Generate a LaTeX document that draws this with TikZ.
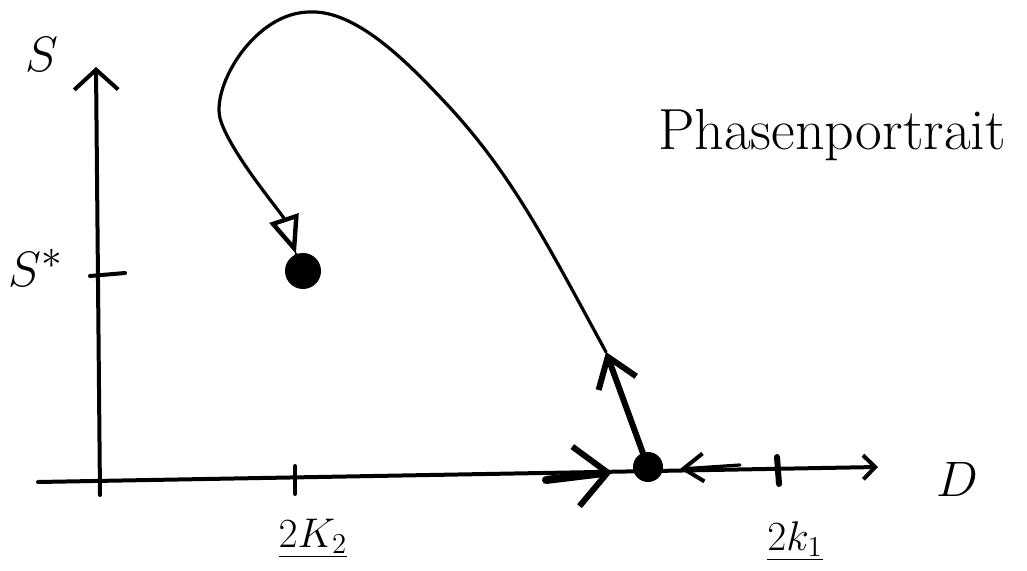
\documentclass[tikz,border=0pt]{standalone}
\usetikzlibrary{arrows.meta}

\begin{document}
\begin{tikzpicture}[x=0.5pt, y=-0.5pt, line cap=round, line join=round,
        axis/.style={line width=2pt},
        traj/.style={line width=1.6pt},
        dot/.style={circle, fill=black, inner sep=0pt},
        lab/.style={inner sep=0pt}]
    \useasboundingbox (0,0) rectangle (1027,571);

    % axes
    \coordinate (xs) at (38,482);
    \coordinate (xe) at (878,467);
    \coordinate (ys) at (100,495);
    \coordinate (ye) at (96,67);
    \draw[axis, -{Straight Barb[length=6pt, width=12pt, line width=2pt]}] (xs) -- (xe);
    \draw[axis, -{Straight Barb[length=10pt, width=22pt, line width=2pt]}] (ys) -- (ye);

    % ticks
    \draw[axis] (90,276) -- (125,273);
    \draw[axis] (295,466) -- (295,494);
    \draw[line width=3pt] (777,457) -- (779,484);

    % labels
    \node[lab, font=\fontsize{32}{36}\selectfont] (S) at (42,55) {$S$};
    \node[lab, font=\fontsize{30}{34}\selectfont] (Sst) at (36,268) {$S^{*}$};
    \node[lab, font=\fontsize{25}{30}\selectfont] (D) at (957,479) {$D$};
    \node[lab, font=\fontsize{22}{26}\selectfont] (K2) at (313,538) {$\underline{2K_2}$};
    \node[lab, font=\fontsize{22}{26}\selectfont] (K1) at (795,541) {$\underline{2k_1}$};
    \node[lab, font=\fontsize{29}{34}\selectfont] (title) at (832,135) {Phasenportrait};

    % fixed points
    \node[dot, minimum size=15pt] (sad) at (648,467) {};
    \node[dot, minimum size=18pt] (stab) at (303,271) {};

    % flow on the D axis
    \coordinate (inL) at (546,480);
    \coordinate (tipL) at (612,472);
    \draw[line width=4pt, -{Straight Barb[length=16pt, width=30pt, line width=3pt]}] (inL) -- (tipL);
    \coordinate (inR) at (740,465);
    \coordinate (tipR) at (680,469);
    \draw[traj, -{Straight Barb[length=10pt, width=14pt, line width=2pt]}] (inR) -- (tipR);

    % trajectory from the saddle to the stable point
    \coordinate (turn) at (606,352);
    \coordinate (top) at (310,12);
    \coordinate (tip) at (296,254);
    \draw[line width=3pt, -{Straight Barb[length=14pt, width=20pt, line width=3pt]}] (sad) -- (turn);
    \draw[traj, -{Triangle[open, length=19pt, width=15pt, line width=2.2pt]}]
        (turn) .. controls (545,240) and (510,170) .. (440,97)
        .. controls (405,60) and (355,10) .. (top)
        .. controls (255,12) and (212,85) .. (220,118)
        .. controls (228,150) and (283,215) .. (tip);
    \draw[traj] (tip) -- (stab);
\end{tikzpicture}
\end{document}
